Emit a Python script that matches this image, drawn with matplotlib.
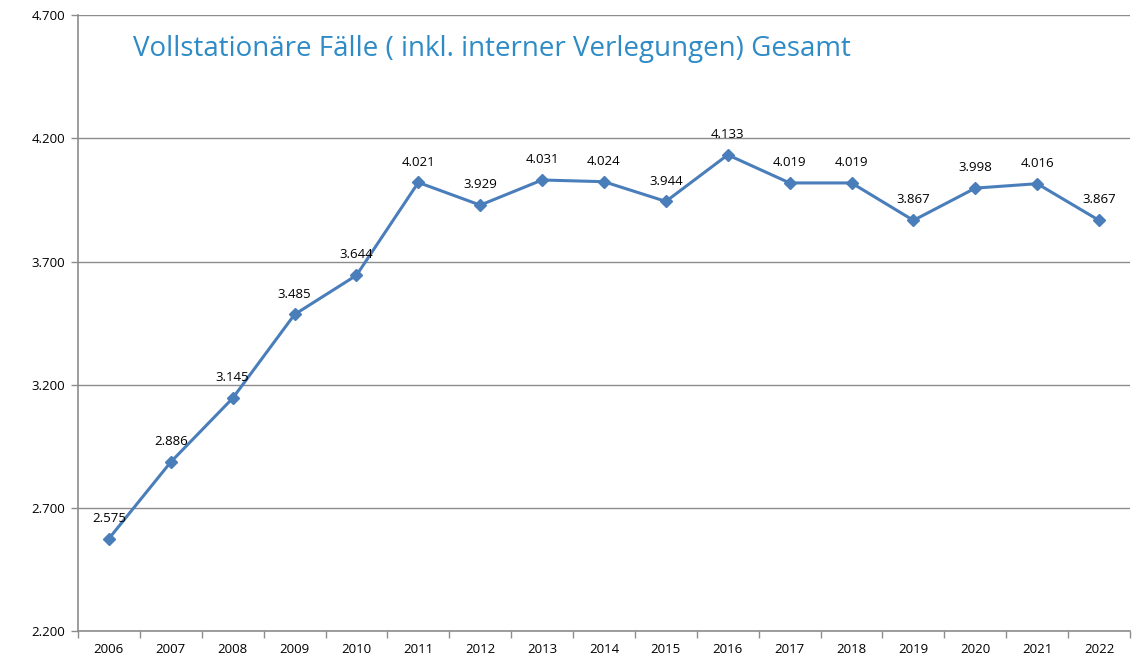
import numpy as np
import matplotlib.pyplot as plt
from matplotlib.ticker import FuncFormatter, FixedLocator

plt.rcParams['font.family'] = ['Open Sans', 'DejaVu Sans']

years = [str(y) for y in range(2006, 2023)]
faelle = [2575, 2886, 3145, 3485, 3644, 4021, 3929, 4031, 4024, 3944,
          4133, 4019, 4019, 3867, 3998, 4016, 3867]
y_ticks = [2200, 2700, 3200, 3700, 4200, 4700]

title = 'Vollstationäre Fälle ( inkl. interner Verlegungen) Gesamt'
line_color = '#4A7EBB'
grid_color = '#8C8C8C'


def de_format(v, pos=None):
    return f'{int(v):,}'.replace(',', '.')


fig = plt.figure(figsize=(11.38, 6.61), dpi=100)
ax = fig.add_axes([0.0685, 0.0454, 0.9245, 0.9316])

x = np.arange(len(years))
ax.plot(x, faelle, color=line_color, lw=2.2, marker='D', ms=6,
        markerfacecolor=line_color, markeredgecolor=line_color, zorder=3)

for xi, v in zip(x, faelle):
    ax.annotate(de_format(v), (xi, v), xytext=(0, 10), textcoords='offset points',
                ha='center', va='bottom', fontsize=9.5, color='black')

ax.set_xlim(-0.5, len(years) - 0.5)
ax.set_ylim(y_ticks[0], y_ticks[-1])
ax.set_yticks(y_ticks)
ax.yaxis.set_major_formatter(FuncFormatter(de_format))
ax.yaxis.grid(True, color=grid_color, lw=1)
ax.set_axisbelow(True)

# year labels in the middle, tick marks on category boundaries
ax.set_xticks(x)
ax.set_xticklabels(years)
ax.tick_params(axis='x', which='major', length=0, pad=9, labelsize=9.5)
ax.xaxis.set_minor_locator(FixedLocator(np.arange(-0.5, len(years), 1.0)))
ax.tick_params(axis='x', which='minor', length=5, width=1, color=grid_color, direction='out')
ax.tick_params(axis='y', length=5, width=1, color=grid_color, labelsize=9.5, pad=4)

for side in ['top', 'right']:
    ax.spines[side].set_visible(False)
for side in ['left', 'bottom']:
    ax.spines[side].set_color(grid_color)
    ax.spines[side].set_linewidth(1.2)

fig.text(0.117, 0.926, title, fontsize=20, color='#2E8BC6', ha='left', va='center')

fig.savefig('out.png', dpi=100)
